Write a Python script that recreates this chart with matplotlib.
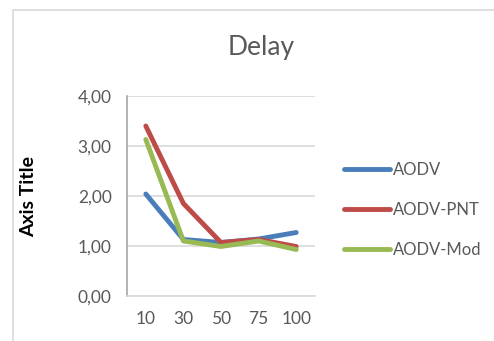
import matplotlib.pyplot as plt
from matplotlib.patches import Rectangle

# data
categories = ["10", "30", "50", "75", "100"]
aodv = [2.04, 1.13, 1.07, 1.14, 1.27]
aodv_pnt = [3.40, 1.85, 1.07, 1.13, 0.99]
aodv_mod = [3.13, 1.10, 0.99, 1.10, 0.93]
y_ticks = [0, 1, 2, 3, 4]
y_labels = ["0,00", "1,00", "2,00", "3,00", "4,00"]

plt.rcParams["font.family"] = ["Lato", "DejaVu Sans"]

fig = plt.figure(figsize=(4.94, 3.41), dpi=100)
fig.patch.set_facecolor("white")

# light chart frame
fig.add_artist(Rectangle((13 / 494, -0.1), 1.2, 1 - 10 / 341 + 0.1,
                         transform=fig.transFigure, fill=False,
                         edgecolor="#d9d9d9", lw=1.2))

ax = fig.add_axes([127 / 494, 1 - 296 / 341, 188 / 494, 200 / 341])
x = list(range(len(categories)))
ax.plot(x, aodv, color="#4a7ebb", lw=3.5, label="AODV", solid_capstyle="round")
ax.plot(x, aodv_pnt, color="#be4b48", lw=3.5, label="AODV-PNT", solid_capstyle="round")
ax.plot(x, aodv_mod, color="#98b954", lw=3.5, label="AODV-Mod", solid_capstyle="round")

ax.set_xlim(-0.5, len(categories) - 0.5)
ax.set_ylim(0, 4)
ax.set_xticks(x)
ax.set_xticklabels(categories)
ax.set_yticks(y_ticks)
ax.set_yticklabels(y_labels)
ax.tick_params(length=0, labelsize=12.5, colors="#595959", pad=11)
ax.grid(axis="y", color="#d9d9d9", lw=1.2)
ax.set_axisbelow(True)
for s in ["top", "right"]:
    ax.spines[s].set_visible(False)
ax.spines["left"].set_color("#a6a6a6")
ax.spines["bottom"].set_color("#d9d9d9")
ax.spines["left"].set_linewidth(1.2)
ax.spines["bottom"].set_linewidth(1.2)

fig.text(261 / 494, 1 - 48 / 341, "Delay", ha="center", va="center",
         fontsize=19, color="#595959")
fig.text(29 / 494, 1 - 196 / 341, "Axis Title", ha="center", va="center",
         rotation=90, fontsize=14, fontweight="bold", color="black")

ax.legend(loc="center left", bbox_to_anchor=(344 / 494, 1 - 210 / 341),
          bbox_transform=fig.transFigure, frameon=False, fontsize=12,
          labelcolor="#595959", handlelength=2.75, handletextpad=0.2,
          labelspacing=1.45, borderpad=0, borderaxespad=0)

fig.savefig("out.png", dpi=100)
